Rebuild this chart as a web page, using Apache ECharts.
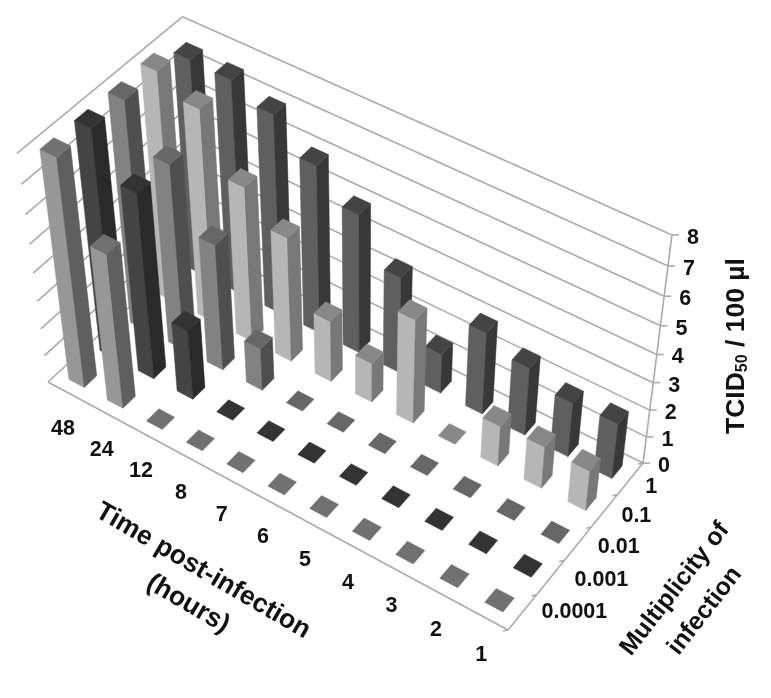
<!DOCTYPE html>
<html><head><meta charset="utf-8">
<style>html,body{margin:0;padding:0;background:#fff}#c{width:771px;height:698px}</style>
<script src="https://cdn.jsdelivr.net/npm/echarts@6/dist/echarts.min.js"></script></head>
<body><div id="c"></div>
<script>
const timeLabels = ['48','24','12','8','7','6','5','4','3','2','1'];
const moiLabels = ['0.0001','0.001','0.01','0.1','1'];
const valueTicks = [0,1,2,3,4,5,6,7,8];
const moi0001 = [8.05,5.55,0,0,0,0,0,0,0,0,0];
const moi001  = [8.05,6.6,2.55,0,0,0,0,0,0,0,0];
const moi01   = [8.05,6.6,4.55,1.55,0,0,0,0,0,0,0];
const moi1e1  = [8.1,7.5,5.55,4.5,2.25,1.45,3.8,0,1.5,1.55,1.5];
const moi1    = [7.6,7.55,7.05,6.0,5.0,3.5,1.45,3.0,2.5,2.0,2.05];
const moiSeries = [moi0001,moi001,moi01,moi1e1,moi1];
const shades = [
  {front:'#979797',side:'#5f5f5f',top:'#717171'},
  {front:'#444444',side:'#2a2a2a',top:'#333333'},
  {front:'#828282',side:'#4f4f4f',top:'#676767'},
  {front:'#b6b6b6',side:'#787878',top:'#888888'},
  {front:'#5f5f5f',side:'#383838',top:'#444444'}
];
const NT=timeLabels.length, NM=moiLabels.length, ZMAX=8, FOOT=0.4;
// perspective camera: x along time, y along MOI, z along value, each 0..1
function proj(x,y,z){
  const a=-0.0915*x, b=0.0611*y, c=-0.0901*z;
  const w=a+b+c+1;
  return [(a*-4520+b*2650+c*361+48)/w,(a*-2081+b*-2020+c*2690+382)/w];
}
const GRID='#ababab';
function poly(api,pts,fill,stroke){
  return {type:'polygon',shape:{points:pts.map(p=>api.coord(p))},
    style:{fill:fill,stroke:stroke||fill,lineWidth:0.5}};
}
function line(api,a,b,w){
  const p=api.coord(a),q=api.coord(b);
  return {type:'line',shape:{x1:p[0],y1:p[1],x2:q[0],y2:q[1]},style:{stroke:GRID,lineWidth:w||1.6}};
}
function label(api,pos,dx,dy,text,size,rot,extra){
  const p=api.coord(pos);
  return {type:'text',x:p[0]+dx,y:p[1]+dy,rotation:rot||0,
    style:Object.assign({text:text,fill:'#111',align:'center',verticalAlign:'middle',
      font:'bold '+size+'px "Liberation Sans", Arial, sans-serif'},extra||{})};
}
function renderFrame(params,api){
  const ch=[];
  for(const v of valueTicks){
    const z=v/ZMAX;
    ch.push(line(api,proj(0,0,z),proj(0,1,z)));
    ch.push(line(api,proj(0,1,z),proj(1,1,z)));
    const e=proj(1,1,z);
    ch.push(line(api,e,[e[0]+7,e[1]]));
  }
  ch.push(line(api,proj(1,1,0),proj(1,1,1)));
  ch.push(line(api,proj(0,0,0),proj(1,0,0)));
  ch.push(line(api,proj(1,0,0),proj(1,1,0)));
  for(let j=0;j<=NM;j++){
    const e=proj(1,j/NM,0);
    ch.push(line(api,e,[e[0]-5,e[1]+1]));
  }
  return {type:'group',children:ch};
}
function renderBar(moiIndex){
  return function(params,api){
    const i=api.value(0), v=api.value(1), s=shades[moiIndex];
    const x0=(i+0.5-FOOT/2)/NT,x1=(i+0.5+FOOT/2)/NT;
    const y0=(moiIndex+0.5-FOOT/2)/NM,y1=(moiIndex+0.5+FOOT/2)/NM;
    const z=v/ZMAX, ch=[];
    if(v>0){
      ch.push(poly(api,[proj(x0,y0,0),proj(x1,y0,0),proj(x1,y0,z),proj(x0,y0,z)],s.front));
      ch.push(poly(api,[proj(x1,y0,0),proj(x1,y1,0),proj(x1,y1,z),proj(x1,y0,z)],s.side));
    }
    ch.push(poly(api,[proj(x0,y0,z),proj(x1,y0,z),proj(x1,y1,z),proj(x0,y1,z)],s.top));
    return {type:'group',children:ch};
  };
}
const moiOffsets=[[52,0],[51,2],[41,3],[32,5],[21,8]];
function renderText(params,api){
  const ch=[];
  timeLabels.forEach((t,i)=>ch.push(label(api,proj((i+0.5)/NT,0,0),-4,37,t,21.5)));
  moiLabels.forEach((t,j)=>ch.push(label(api,proj(1,(j+0.5)/NM,0),moiOffsets[j][0],moiOffsets[j][1],t,21.5)));
  valueTicks.forEach(v=>ch.push(label(api,proj(1,1,v/ZMAX),21,3,String(v),21.5)));
  ch.push(label(api,[203,571],0,0,'Time post-infection',26.5,-0.53));
  ch.push(label(api,[188,604],0,0,'(hours)',26.5,-0.53));
  ch.push(label(api,[675,589],0,0,'Multiplicity of',25,0.91));
  ch.push(label(api,[705,611],0,0,'infection',25,0.91));
  ch.push(label(api,[737,346],0,0,'{a|TCID}{s|50}{a| / 100 µl}',26.5,Math.PI/2,{
    rich:{a:{font:'bold 26.5px "Liberation Sans", Arial, sans-serif',fill:'#111'},
          s:{font:'bold 16px "Liberation Sans", Arial, sans-serif',fill:'#111',verticalAlign:'bottom',padding:[8,0,0,0]}}}));
  return {type:'group',children:ch};
}
const series=[{type:'custom',name:'frame',renderItem:renderFrame,data:[[0,0]],silent:true,clip:false,z:1}];
for(let j=NM-1;j>=0;j--){
  series.push({type:'custom',name:moiLabels[j],renderItem:renderBar(j),clip:false,z:2,silent:true,
    data:moiSeries[j].map((v,i)=>[i,v])});
}
series.push({type:'custom',name:'text',renderItem:renderText,data:[[0,0]],silent:true,clip:false,z:3});
const chart=echarts.init(document.getElementById('c'),null,{renderer:'canvas'});
chart.setOption({
  animation:false,backgroundColor:'#fff',
  grid:{left:0,right:0,top:0,bottom:0},
  xAxis:{type:'value',min:0,max:771,show:false},
  yAxis:{type:'value',min:0,max:698,inverse:true,show:false},
  series:series
});
</script></body></html>
